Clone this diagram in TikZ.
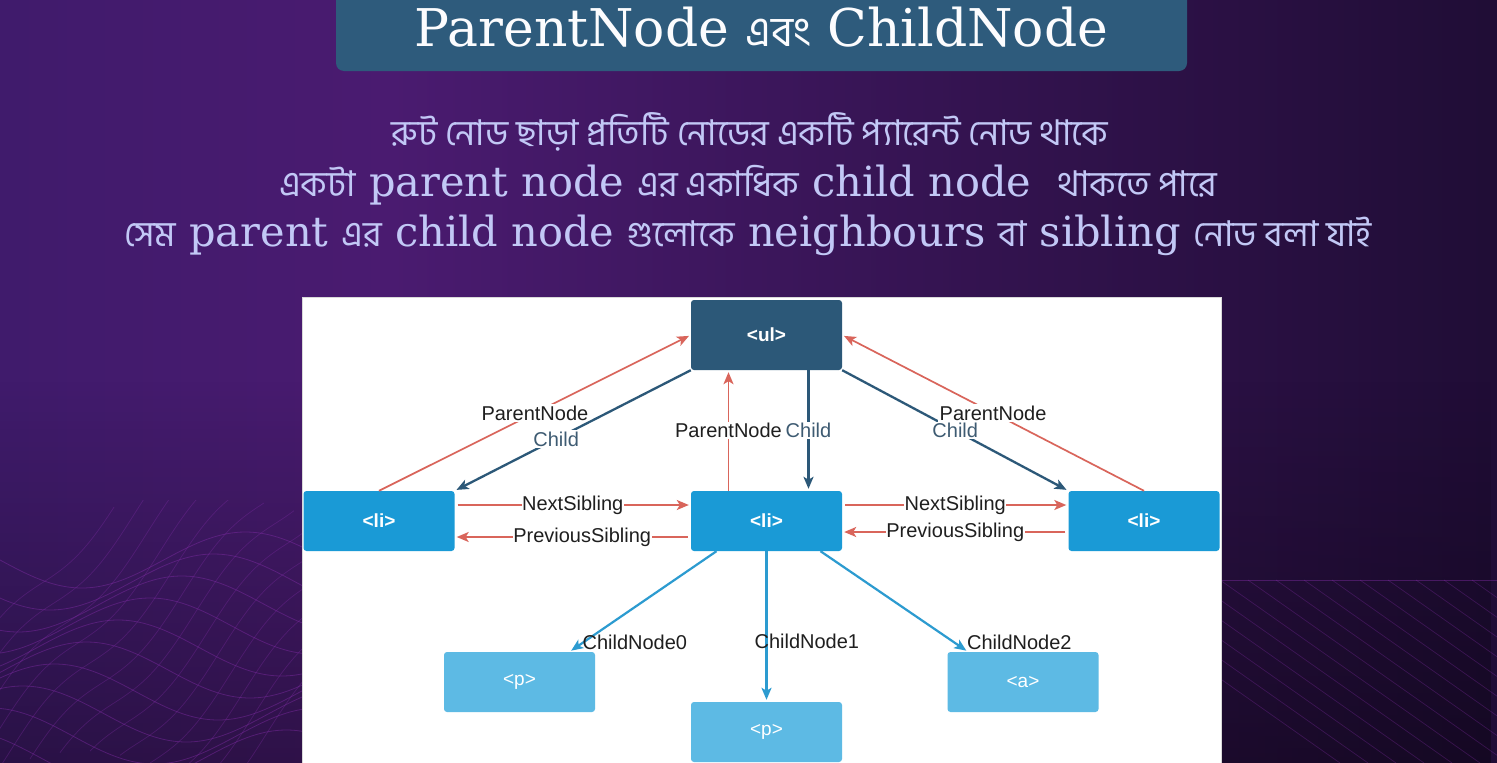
\documentclass[tikz,border=0pt]{standalone}
\usepackage{fontspec}
\setmainfont{DejaVu Serif}
\newfontfamily\bnfont[Script=Bengali]{Hind Siliguri}
\newfontfamily\sansfont{Liberation Sans}
\usetikzlibrary{arrows.meta,fadings,calc}
\definecolor{bgA}{HTML}{2C1C64}
\definecolor{bgB}{HTML}{4A1B70}
\definecolor{bgC}{HTML}{33134F}
\definecolor{bgD}{HTML}{1A0B2E}
\definecolor{bgE}{HTML}{110820}
\definecolor{titlebox}{HTML}{2E5B7C}
\definecolor{lav}{HTML}{C2C8F6}
\definecolor{ulblue}{HTML}{2C5878}
\definecolor{liblue}{HTML}{1A9AD6}
\definecolor{pblue}{HTML}{5DBAE4}
\definecolor{arred}{HTML}{D9655B}
\definecolor{cblue}{HTML}{2C9BD0}
\definecolor{childtxt}{HTML}{3E5B72}
\definecolor{wavec}{HTML}{8A2FB0}
\pgfdeclarehorizontalshading{bgshade}{100bp}{color(0bp)=(bgA); color(38bp)=(bgB); color(58bp)=(bgC); color(80bp)=(bgD); color(100bp)=(bgE)}
\newcommand\bntext[1]{{\bnfont\fontsize{35.5}{40}\selectfont #1}}
\tikzset{
  boxbase/.style={rounded corners=3pt, minimum width=151pt, minimum height=60pt, inner sep=0pt, text=white},
  ulbox/.style={boxbase, fill=ulblue, minimum height=70pt, font=\sansfont\bfseries\fontsize{19}{21}\selectfont},
  libox/.style={boxbase, fill=liblue, font=\sansfont\bfseries\fontsize{19}{21}\selectfont},
  pbox/.style={boxbase, fill=pblue, font=\sansfont\fontsize{19}{21}\selectfont},
  tip/.style={-{Stealth[length=12pt,width=10pt,inset=3pt]}},
  redarr/.style={draw=arred, line width=1.7pt, tip, shorten >=2pt},
  darr/.style={draw=ulblue, line width=2.3pt, tip, shorten >=2pt},
  carr/.style={draw=cblue, line width=2.2pt, tip, shorten >=2pt},
  lbl/.style={font=\sansfont\fontsize{20}{22}\selectfont, text=black!88, fill=white, inner sep=1.5pt},
  clbl/.style={lbl, text=childtxt},
  nlbl/.style={font=\sansfont\fontsize{20}{22}\selectfont, text=black!88, inner sep=0pt},
  bnline/.style={anchor=base, text=lav, font=\fontsize{41.5}{48}\selectfont},
}
\begin{document}
\begin{tikzpicture}[x=1pt,y=-1pt]
\useasboundingbox (0,0) rectangle (1497,763);
% background
\shade[shading=bgshade] (0,0) rectangle (1497,763);
\fill[black, opacity=0.35, path fading=north] (0,380) rectangle (1497,763);
% decorative waves bottom-left
\begin{scope}
\clip (0,500) rectangle (302,763);
\foreach \k in {0,...,9}{
  \draw[wavec, line width=0.8pt, opacity=0.4] plot[domain=0:302, samples=50, smooth] (\x, {560+\k*22 + 28*sin(\x*1.1+\k*35)});
}
\foreach \k in {0,...,12}{
  \draw[wavec, line width=0.7pt, opacity=0.3] plot[domain=0:260, samples=40, smooth] ({\k*30-120+\x*0.9}, {763-\x + 12*sin(\x*2+\k*40)});
}
\end{scope}
% decorative grid bottom-right
\begin{scope}
\clip (1221,578) rectangle (1497,763);
\draw[wavec, line width=0.8pt, opacity=0.4] (1221,580) -- (1497,580);
\foreach \k in {0,...,16}{
  \draw[wavec, line width=0.7pt, opacity=0.3] ({1080+\k*28},580) -- ({1080+\k*28+260},763);
}
\end{scope}
% title
\node[fill=titlebox, rounded corners=8pt, minimum width=851pt, minimum height=80pt, inner sep=0pt] (tbox) at (761.5,31) {};
\node[anchor=base, text=white!95!lav, font=\fontsize{52}{60}\selectfont] (title) at (761.5,46) {ParentNode {\bnfont\fontsize{42}{46}\selectfont এবং} ChildNode};
% text lines
\node[bnline] (line1) at (750,145) {\bntext{রুট নোড ছাড়া প্রতিটি নোডের একটি প্যারেন্ট নোড থাকে}};
\node[bnline] (line2) at (748,196) {\bntext{একটা} parent node \bntext{এর একাধিক} child node \ \bntext{থাকতে পারে}};
\node[bnline] (line3) at (748,246) {\bntext{সেম} parent \bntext{এর} child node \bntext{গুলোকে} neighbours \bntext{বা} sibling \bntext{নোড বলা যাই}};
% panel
\fill[white] (302,297) rectangle (1221,763);
\draw[white!85!black, line width=0.6pt] (302,763) -- (302,297) -- (1221,297) -- (1221,763);
% nodes
\node[ulbox] (ul) at (766.5,335) {<ul>};
\node[libox] (li1) at (379,521) {<li>};
\node[libox] (li2) at (766.5,521) {<li>};
\node[libox] (li3) at (1144,521) {<li>};
\node[pbox] (p1) at (519.5,682) {<p>};
\node[pbox] (p2) at (766.5,732) {<p>};
\node[pbox] (a1) at (1023,682) {<a>};
% parent / child connectors
\draw[redarr] (li1.north) -- node[lbl, pos=0.5] {ParentNode} (ul.west);
\draw[darr] (ul.south west) -- node[clbl, pos=0.57] {Child} (li1.north east);
\draw[redarr] ([xshift=-38pt]li2.north) -- node[lbl, pos=0.5] {ParentNode} ([xshift=-38pt]ul.south);
\draw[darr] ([xshift=42pt]ul.south) -- node[clbl, pos=0.5] {Child} ([xshift=42pt]li2.north);
\draw[darr] (ul.south east) -- node[clbl, pos=0.5] {Child} (li3.north west);
\draw[redarr] (li3.north) -- node[lbl, pos=0.5] {ParentNode} (ul.east);
% siblings
\draw[redarr, shorten <=3pt] ([yshift=16pt]li1.east) -- node[lbl, pos=0.5, inner sep=0.5pt] {NextSibling} ([yshift=16pt]li2.west);
\draw[redarr, shorten <=3pt] ([yshift=-16pt]li2.west) -- node[lbl, pos=0.46, inner sep=0.5pt] {PreviousSibling} ([yshift=-16pt]li1.east);
\draw[redarr, shorten <=3pt] ([yshift=16pt]li2.east) -- node[lbl, pos=0.5, inner sep=0.5pt] {NextSibling} ([yshift=16pt]li3.west);
\draw[redarr, shorten <=3pt] ([yshift=-11pt]li3.west) -- node[lbl, pos=0.5, inner sep=0.5pt] {PreviousSibling} ([yshift=-11pt]li2.east);
% child nodes
\draw[carr] ([xshift=-50pt]li2.south) -- ([xshift=50pt]p1.north) node[nlbl, anchor=west, xshift=12pt, yshift=9pt] {ChildNode0};
\draw[carr] (li2.south) -- node[nlbl, pos=0.6, anchor=west, xshift=-13pt] {ChildNode1} (p2.north);
\draw[carr] ([xshift=54pt]li2.south) -- ([xshift=-55pt]a1.north) node[nlbl, anchor=west, xshift=-2pt, yshift=9pt] {ChildNode2};
\end{tikzpicture}
\end{document}
